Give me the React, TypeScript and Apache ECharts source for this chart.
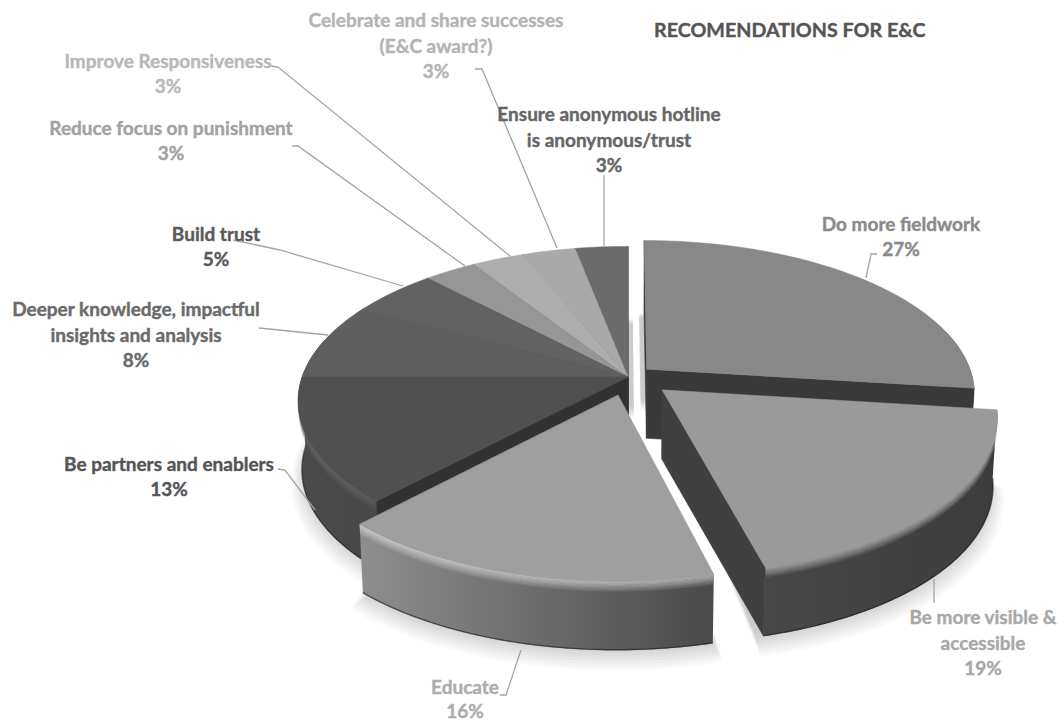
import React, { useEffect, useRef } from "react";
import * as echarts from "echarts";

// Survey results: share of responses per recommendation, clockwise from twelve o'clock.
const CATEGORIES = [
  "Do more fieldwork",
  "Be more visible &\naccessible",
  "Educate",
  "Be partners and enablers",
  "Deeper knowledge, impactful\ninsights and analysis",
  "Build trust",
  "Reduce focus on punishment",
  "Improve Responsiveness",
  "Celebrate and share successes\n(E&C award?)",
  "Ensure anonymous hotline\nis anonymous/trust",
];
const VALUES = [27, 19, 16, 13, 8, 5, 3, 3, 3, 3];
const CHART_TITLE = "RECOMENDATIONS FOR E&C";

// Offset of each pulled-out slice from the disc centre, in disc radii (across, toward viewer).
const EXPLODE_OFFSET: [number, number][] = [
  [0.0577, -0.052],
  [0.103, 0.084],
  [-0.03, 0.117],
  [0, 0], [0, 0], [0, 0], [0, 0], [0, 0], [0, 0], [0, 0],
];

// Paint order: the back of the disc first, the pulled-out front slices last.
const DRAW_ORDER = [9, 8, 7, 6, 5, 4, 3, 0, 1, 2];

const TOP_FILL = ["#888888", "#9a9a9a", "#9f9f9f", "#505050", "#5f5f5f", "#626262", "#969696", "#adadad", "#a9a9a9", "#6b6b6b"];
const WALL_STOPS = [
  ["#3a3a3a", "#3a3a3a"],
  ["#484848", "#3c3c3c"],
  ["#8e8e8e", "#4a4a4a"],
  ["#4a4a4a", "#484848"],
  ["#4a4a4a", "#4a4a4a"],
  ["#4a4a4a", "#4a4a4a"],
  ["#555555", "#555555"],
  ["#555555", "#555555"],
  ["#555555", "#555555"],
  ["#333333", "#333333"],
];
const RADIAL_FILL = ["#393939", "#404040", "#555555", "#323232", "#444444", "#444444", "#444444", "#444444", "#444444", "#1c1c1c"];
const BEVEL_STOPS = [
  ["#888888", "#7a7a7a"],
  ["#9a9a9a", "#9a9a9a"],
  ["#c4c4c4", "#a6a6a6"],
  ["#666666", "#5a5a5a"],
  ["#5f5f5f", "#5f5f5f"],
  ["#626262", "#626262"],
  ["#969696", "#969696"],
  ["#adadad", "#adadad"],
  ["#a9a9a9", "#a9a9a9"],
  ["#6b6b6b", "#6b6b6b"],
];

const LABEL_FILL = ["#8a8a8a", "#a8a8a8", "#adadad", "#555555", "#6a6a6a", "#5a5a5a", "#a2a2a2", "#b8b8b8", "#b4b4b4", "#666666"];
const LABEL_CENTER: [number, number][] = [
  [901, 236], [983, 642], [465, 698], [169, 476], [136, 334],
  [216, 246], [171, 140], [168, 73], [436, 45], [609, 139],
];
const LABEL_LEADING = [25.5, 25.5, 24, 25.5, 25.5, 25.5, 25.5, 25.5, 25.5, 25.5];
const LEADERS: [number, number][][] = [
  [[877, 254], [871, 254], [866, 278]],
  [[934, 579], [934, 603]],
  [[500, 695], [506, 695], [521, 650]],
  [[278, 469], [285, 470], [315, 510]],
  [[259, 328], [328, 335]],
  [[233, 240], [280, 250], [403, 286]],
  [[292, 146], [298, 146], [465, 266]],
  [[271, 66], [278, 67], [510, 256]],
  [[475, 69], [482, 69], [557, 248]],
  [[604, 175], [604, 246]],
];

const CX = 628;
const CY = 377;
const RADIUS_X = 326;
const RADIUS_Y = 151;
const PERSPECTIVE = 0.156;
const DEPTH = 69;
const BEVEL = 10;
const BEVEL_STEPS = 6;
const SHADOW_LAYERS = 9;
const FONT = "Lato";

const TOTAL = VALUES.reduce((a, b) => a + b, 0);
const STARTS = VALUES.map((_, i) => VALUES.slice(0, i).reduce((a, b) => a + b, 0));
const toAngle = (share: number) => (share / TOTAL) * 360;

// Perspective view of a point on the disc; v grows toward the viewer, z is depth below the top face.
function project(u: number, v: number, z: number): number[] {
  const s = 1 / (1 - PERSPECTIVE * v);
  const shrink = 1 - (0.012 * z) / DEPTH;
  return [CX + RADIUS_X * u * s * shrink, CY + RADIUS_Y * v * s + z];
}

function rimPoint(i: number, deg: number, z: number, spread = 1): number[] {
  const a = (deg * Math.PI) / 180;
  const [du, dv] = EXPLODE_OFFSET[i];
  return project(Math.sin(a) * spread + du, -Math.cos(a) * spread + dv, z);
}

function apexPoint(i: number, z: number): number[] {
  const [du, dv] = EXPLODE_OFFSET[i];
  return project(du, dv, z);
}

function arcPoints(i: number, from: number, to: number, z: number, spread = 1): number[][] {
  const steps = Math.max(2, Math.ceil(Math.abs(to - from)));
  const pts: number[][] = [];
  for (let k = 0; k <= steps; k++) pts.push(rimPoint(i, from + ((to - from) * k) / steps, z, spread));
  return pts;
}

function band(i: number, from: number, to: number, z0: number, z1: number): number[][] {
  return [...arcPoints(i, from, to, z0), ...arcPoints(i, to, from, z1)];
}

const sideGradient = (stops: string[]) =>
  new echarts.graphic.LinearGradient(0, 0, 1, 0, [
    { offset: 0, color: stops[0] },
    { offset: 1, color: stops[1] },
  ]);

// A radial cut face shows only when it turns toward the viewer.
function cutFaceVisible(deg: number, isStartEdge: boolean): boolean {
  const s = Math.sin((deg * Math.PI) / 180);
  if (Math.abs(s) < 0.01) return true;
  return isStartEdge ? s < 0 : s > 0;
}

// Stacked faint copies of the underside make a soft shadow on the page.
function shadowLayers(i: number, from: number, to: number): any[] {
  const layers: any[] = [];
  for (let k = 0; k < SHADOW_LAYERS; k++) {
    const spread = 1 + (k - 3) * 0.007;
    const z = DEPTH + 1 + k * 1.4;
    const [ax, ay] = apexPoint(i, z);
    const points = [[ax - 6, ay - 40], ...arcPoints(i, from - 1, to + 1, z, spread), [ax + 6, ay - 40]];
    layers.push({
      type: "polygon",
      z2: 1 + k,
      shape: { points },
      style: { fill: "#000000", opacity: 0.022 },
    });
  }
  return layers;
}

function renderSlice(params: any, api: any) {
  const order = params.dataIndex;
  const i = DRAW_ORDER[order];
  const from = toAngle(STARTS[i]);
  const to = from + toAngle(api.value(0));
  const base = 100 + order * 100;
  const children: any[] = [];
  const pulled = EXPLODE_OFFSET[i][0] !== 0;

  // Pulled-out slices cast their own shadow; the remaining disc casts one as a whole.
  if (pulled) children.push(...shadowLayers(i, from, to));
  else if (i === 3) children.push(...shadowLayers(i, from, 360));

  // Outer wall, only on the part of the rim that faces the viewer, with a soft bevel below the top face.
  const wallFrom = Math.max(from, 75);
  const wallTo = Math.min(to, 285);
  if (wallTo > wallFrom) {
    children.push({
      type: "polygon",
      z2: base + 1,
      shape: { points: band(i, wallFrom, wallTo, 0, DEPTH) },
      style: { fill: sideGradient(WALL_STOPS[i]) },
    });
    children.push({
      type: "polyline",
      z2: base + 2,
      shape: { points: arcPoints(i, wallFrom, wallTo, DEPTH - 0.5) },
      style: { stroke: "rgba(30,30,30,0.6)", lineWidth: 1.4, fill: "none" },
    });
    for (let k = 0; k < BEVEL_STEPS; k++) {
      const z0 = (BEVEL * k) / BEVEL_STEPS;
      const z1 = (BEVEL * (k + 1)) / BEVEL_STEPS;
      children.push({
        type: "polygon",
        z2: base + 3 + k,
        shape: { points: band(i, wallFrom, wallTo, z0, z1 + 0.3) },
        style: { fill: sideGradient(BEVEL_STOPS[i]), opacity: 1 - k / BEVEL_STEPS },
      });
    }
  }

  // Cut faces along the radial edges.
  [from, to].forEach((deg, n) => {
    if (!cutFaceVisible(deg, n === 0)) return;
    children.push({
      type: "polygon",
      z2: base + 15 + n,
      shape: { points: [apexPoint(i, 0), rimPoint(i, deg, 0), rimPoint(i, deg, DEPTH), apexPoint(i, DEPTH)] },
      style: { fill: RADIAL_FILL[i], stroke: RADIAL_FILL[i], lineWidth: 0.6 },
    });
  });

  // Top face.
  children.push({
    type: "polygon",
    z2: base + 20,
    shape: { points: [apexPoint(i, 0), ...arcPoints(i, from, to, 0)] },
    style: { fill: TOP_FILL[i], stroke: TOP_FILL[i], lineWidth: 0.5 },
  });

  // Leader line and value label sit above the whole disc.
  children.push({
    type: "polyline",
    z2: 5000 + order,
    shape: { points: LEADERS[i] },
    style: { stroke: "#a3a3a3", lineWidth: 1.3, fill: "none" },
  });
  children.push({
    type: "text",
    z2: 5100 + order,
    style: {
      text: `${CATEGORIES[i]}\n${VALUES[i]}%`,
      x: LABEL_CENTER[i][0],
      y: LABEL_CENTER[i][1],
      align: "center",
      verticalAlign: "middle",
      fill: LABEL_FILL[i],
      stroke: LABEL_FILL[i],
      lineWidth: 0.4,
      fontFamily: FONT,
      fontWeight: "bold",
      fontSize: 19,
      lineHeight: LABEL_LEADING[i],
    },
  });

  return { type: "group", children };
}

export default function App() {
  const ref = useRef<HTMLDivElement>(null);

  useEffect(() => {
    const chart = echarts.init(ref.current!, undefined, { renderer: "svg" });
    chart.setOption({
      animation: false,
      backgroundColor: "#ffffff",
      title: {
        text: CHART_TITLE,
        left: 649,
        top: 14,
        textStyle: {
          fontFamily: FONT,
          fontWeight: "bold",
          fontSize: 19.7,
          color: "#555555",
          textBorderColor: "#555555",
          textBorderWidth: 0.4,
        },
      },
      series: [
        {
          type: "custom",
          coordinateSystem: "none",
          silent: true,
          renderItem: renderSlice,
          data: DRAW_ORDER.map((i) => ({ name: CATEGORIES[i], value: VALUES[i] })),
        },
      ],
    });
    return () => chart.dispose();
  }, []);

  return <div ref={ref} style={{ position: "absolute", left: 0, top: 0, width: 1058, height: 722 }} />;
}
